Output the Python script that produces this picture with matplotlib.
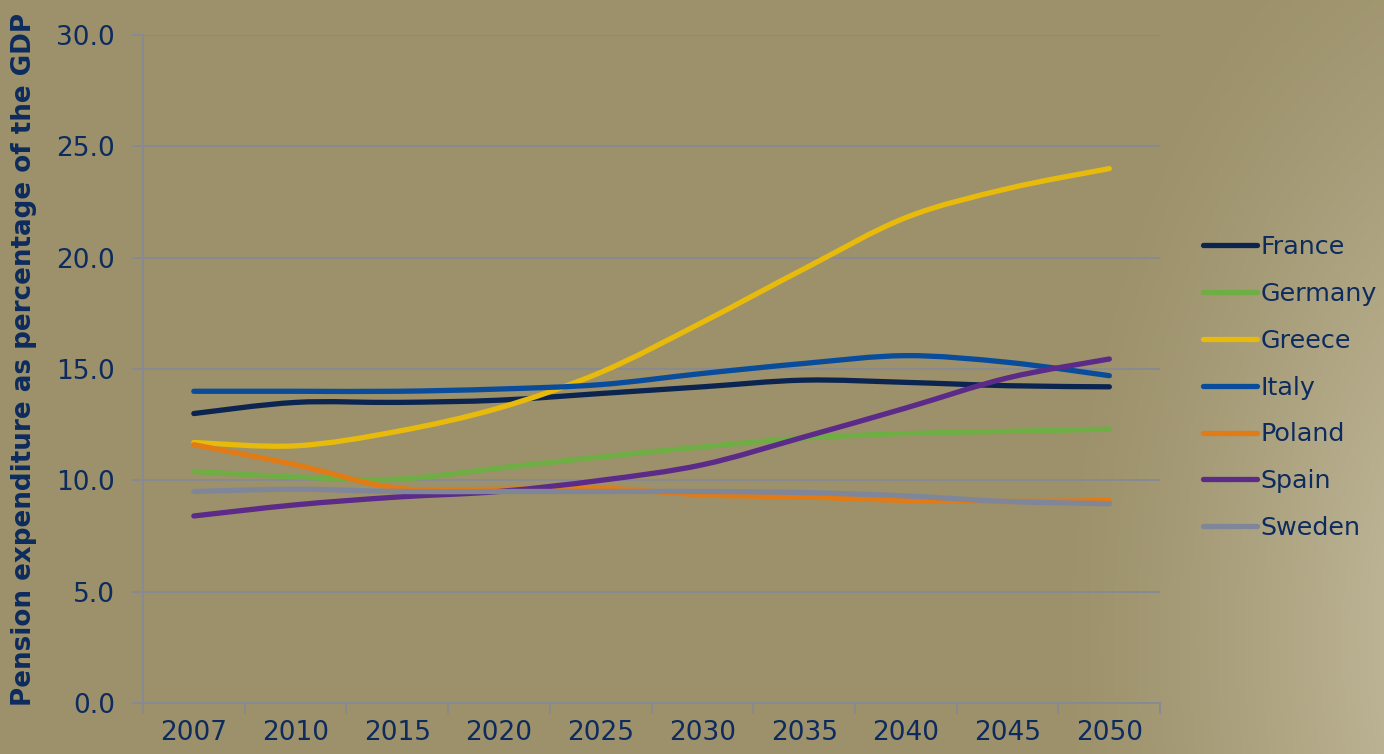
import numpy as np
import matplotlib
matplotlib.use("Agg")
import matplotlib.pyplot as plt
from matplotlib.path import Path
from matplotlib.patches import PathPatch
from matplotlib.lines import Line2D

# Data
years = ["2007", "2010", "2015", "2020", "2025", "2030", "2035", "2040", "2045", "2050"]
france = [13.0, 13.5, 13.5, 13.6, 13.9, 14.2, 14.5, 14.4, 14.25, 14.2]
germany = [10.4, 10.15, 10.05, 10.55, 11.05, 11.5, 11.9, 12.1, 12.2, 12.3]
greece = [11.7, 11.55, 12.2, 13.25, 14.85, 17.1, 19.5, 21.8, 23.1, 24.0]
italy = [14.0, 14.0, 14.0, 14.1, 14.3, 14.8, 15.25, 15.6, 15.3, 14.7]
poland = [11.6, 10.7, 9.65, 9.6, 9.65, 9.35, 9.25, 9.1, 9.05, 9.1]
spain = [8.4, 8.9, 9.25, 9.5, 10.0, 10.7, 11.95, 13.25, 14.6, 15.45]
sweden = [9.5, 9.6, 9.5, 9.5, 9.5, 9.5, 9.45, 9.3, 9.05, 8.95]

countries = ["France", "Germany", "Greece", "Italy", "Poland", "Spain", "Sweden"]
series = [france, germany, greece, italy, poland, spain, sweden]
colors = ["#0b2550", "#6fae45", "#e8ba0c", "#0a4c9c", "#e07b16", "#5c2a88", "#80869a"]

text_color = "#0d2b5e"
grid_color = "#888a92"


def smooth_path(xs, ys):
    # Excel-style smoothed line: cubic Bezier segments through the points
    pts = np.column_stack([xs, ys]).astype(float)
    n = len(pts)
    verts = [pts[0]]
    codes = [Path.MOVETO]
    for i in range(n - 1):
        p0 = pts[i - 1] if i > 0 else pts[i]
        p1 = pts[i]
        p2 = pts[i + 1]
        p3 = pts[i + 2] if i + 2 < n else pts[i + 1]
        c1 = p1 + (p2 - p0) / 6.0
        c2 = p2 - (p3 - p1) / 6.0
        verts += [c1, c2, p2]
        codes += [Path.CURVE4] * 3
    return Path(verts, codes)


fig = plt.figure(figsize=(13.84, 7.54), dpi=100)

# background: khaki with a lighter sweep on the right side
bg = fig.add_axes([0, 0, 1, 1], zorder=-10)
gx, gy = np.meshgrid(np.linspace(0, 1, 400), np.linspace(0, 1, 220))
d = np.sqrt(((gx - 1.12) / 0.36) ** 2 + ((gy - 0.85) / 1.1) ** 2)
light = np.clip(1.0 - d, 0, 1) ** 1.3
base = np.array([0x9c, 0x91, 0x6a]) / 255.0
hi = np.array([0xd2, 0xcb, 0xb2]) / 255.0
img = base[None, None, :] * (1 - light[..., None]) + hi[None, None, :] * light[..., None]
bg.imshow(img, aspect="auto", extent=[0, 1, 0, 1], origin="upper")
bg.axis("off")

ax = fig.add_axes([0.1033, 0.0676, 0.7350, 0.886])
ax.patch.set_alpha(0)

x = np.arange(len(years))
for vals, col in zip(series, colors):
    patch = PathPatch(smooth_path(x, vals), facecolor="none", edgecolor=col,
                      lw=3.8, capstyle="round", joinstyle="round", zorder=3)
    ax.add_patch(patch)

ax.set_xlim(-0.5, len(years) - 0.5)
ax.set_ylim(0, 30)
ax.set_yticks(np.arange(0, 30.1, 5))
ax.set_yticklabels([f"{v:.1f}" for v in np.arange(0, 30.1, 5)])
ax.set_xticks(x)
ax.set_xticklabels(years)
ax.set_xticks(np.arange(-0.5, len(years), 1), minor=True)

ax.grid(axis="y", color=grid_color, lw=1.4)
ax.set_axisbelow(True)
for s in ["top", "right"]:
    ax.spines[s].set_visible(False)
for s in ["left", "bottom"]:
    ax.spines[s].set_color(grid_color)
    ax.spines[s].set_linewidth(1.4)

ax.tick_params(axis="x", which="major", length=0, pad=12, labelsize=19, labelcolor=text_color)
ax.tick_params(axis="x", which="minor", length=8, width=1.4, color=grid_color)
ax.tick_params(axis="y", length=8, width=1.4, color=grid_color, pad=12, labelsize=19,
               labelcolor=text_color)

ax.set_ylabel("Pension expenditure as percentage of the GDP", fontsize=18.8,
              fontweight="bold", color=text_color)
ax.yaxis.set_label_coords(-0.104, 0.515)

handles = [Line2D([], [], color=c, lw=3.8, solid_capstyle="round") for c in colors]
leg = fig.legend(handles, countries, loc="center left", bbox_to_anchor=(0.862, 0.486),
                 frameon=False, fontsize=18.3, handlelength=2.1, handletextpad=0.15,
                 labelspacing=0.9, labelcolor=text_color, borderaxespad=0)

fig.savefig("out.png", dpi=100)
